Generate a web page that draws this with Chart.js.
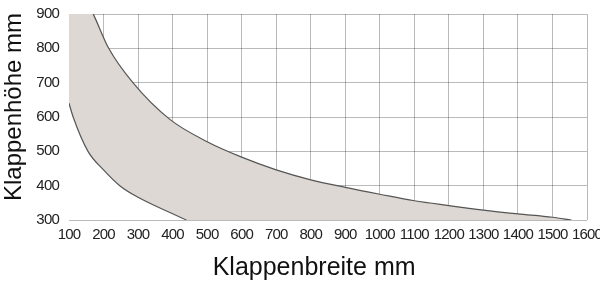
<!DOCTYPE html>
<html>
<head>
<meta charset="utf-8">
<script src="https://cdn.jsdelivr.net/npm/chart.js@4"></script>
<style>
  html, body { margin: 0; padding: 0; background: #fff; }
</style>
</head>
<body>
<canvas id="klappenChart" width="600" height="288"></canvas>
<script>
// upper limit (Klappenbreite mm -> Klappenhöhe mm), flat at 900 up to ~170
var upperWidth = [100, 170, 172, 215, 285, 392, 500, 600, 700, 800, 900, 1000, 1100, 1200, 1300, 1400, 1500, 1555];
var upperHeight = [900, 900, 896, 800, 700, 593, 528, 483, 446, 417, 395, 375, 356, 342, 329, 318, 308, 300];

// lower limit
var lowerWidth = [100, 112, 155, 200, 247, 300, 400, 440];
var lowerHeight = [640, 600, 500, 446, 400, 366, 318, 300];

var xTicks = [100, 200, 300, 400, 500, 600, 700, 800, 900, 1000, 1100, 1200, 1300, 1400, 1500, 1600];
var yTicks = [300, 400, 500, 600, 700, 800, 900];

var areaColor = "rgb(221, 216, 211)";
var lineColor = "rgb(85, 85, 85)";
var gridColor = "rgba(0, 0, 0, 0.27)";
var tickFont = { family: "'Liberation Sans', Arial, sans-serif", size: 15 };

function toPoints(xs, ys) {
  return xs.map(function (x, i) {
    return { x: x, y: ys[i] };
  });
}

// tick labels in the original are a condensed face, squeeze them a bit
function narrowLabels(scale) {
  if (scale._narrowLabels) return;
  var draw = scale.drawLabels;
  scale.drawLabels = function (area) {
    var ctx = this.ctx;
    ctx.save();
    ctx.letterSpacing = "-0.8px";
    draw.call(this, area);
    ctx.restore();
  };
  scale._narrowLabels = true;
}

var klappenChart = document.getElementById("klappenChart");
if (klappenChart) {
  new Chart(klappenChart, {
    type: "line",
    data: {
      datasets: [
        {
          // white below the lower limit
          label: "untere Grenze",
          data: toPoints(lowerWidth, lowerHeight),
          borderColor: lineColor,
          borderWidth: 1.2,
          backgroundColor: "#ffffff",
          fill: "start",
          cubicInterpolationMode: "monotone"
        },
        {
          // upper limit line, without the flat top part
          label: "obere Grenze",
          data: toPoints(upperWidth.slice(1), upperHeight.slice(1)),
          borderColor: lineColor,
          borderWidth: 1.2,
          fill: false,
          cubicInterpolationMode: "monotone"
        },
        {
          // grey area below the upper limit
          label: "Bereich",
          data: toPoints(upperWidth, upperHeight),
          borderColor: "rgba(0, 0, 0, 0)",
          borderWidth: 0,
          backgroundColor: areaColor,
          fill: "start",
          cubicInterpolationMode: "monotone"
        }
      ]
    },
    options: {
      responsive: false,
      animation: false,
      devicePixelRatio: 1,
      layout: {
        padding: { top: 14, right: 13, left: 0, bottom: 0 }
      },
      elements: {
        point: { radius: 0 }
      },
      plugins: {
        legend: { display: false },
        tooltip: { enabled: false }
      },
      scales: {
        x: {
          type: "linear",
          z: 1,
          min: xTicks[0],
          max: xTicks[xTicks.length - 1],
          afterBuildTicks: function (scale) {
            scale.ticks = xTicks.map(function (v) { return { value: v }; });
          },
          afterFit: function (scale) {
            scale.height = 68;
            scale.paddingLeft = 0;
            scale.paddingRight = 0;
          },
          afterUpdate: narrowLabels,
          grid: { color: gridColor, drawTicks: false },
          border: { display: false },
          ticks: {
            autoSkip: false,
            maxRotation: 0,
            padding: 6,
            color: "#222",
            font: tickFont,
            callback: function (v) { return String(v); }
          },
          title: {
            display: true,
            text: "Klappenbreite mm    ",
            color: "#111",
            font: { family: "'Liberation Sans', Arial, sans-serif", size: 25 },
            padding: { top: 0, bottom: 5 }
          }
        },
        y: {
          type: "linear",
          z: 1,
          min: yTicks[0],
          max: yTicks[yTicks.length - 1],
          afterBuildTicks: function (scale) {
            scale.ticks = yTicks.map(function (v) { return { value: v }; });
          },
          afterFit: function (scale) {
            scale.width = 69;
            scale.paddingTop = 0;
            scale.paddingBottom = 0;
          },
          afterUpdate: narrowLabels,
          grid: { color: gridColor, drawTicks: false },
          border: { display: false },
          ticks: {
            padding: 10,
            color: "#222",
            font: tickFont,
            callback: function (v) { return String(v); }
          },
          title: {
            display: true,
            text: "   Klappenhöhe mm",
            color: "#111",
            font: { family: "'Liberation Sans', Arial, sans-serif", size: 24 },
            padding: { top: 0, bottom: 0 }
          }
        }
      }
    }
  });
}
</script>
</body>
</html>
